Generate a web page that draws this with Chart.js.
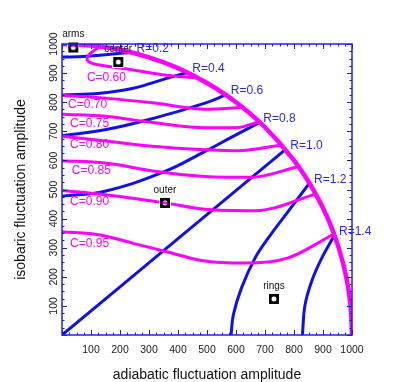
<!DOCTYPE html>
<html>
<head>
<meta charset="utf-8">
<script src="https://cdn.jsdelivr.net/npm/chart.js@4.4.1/dist/chart.umd.min.js"></script>
<style>
  html, body { margin: 0; padding: 0; background: #fff; }
  #wrap { width: 415px; height: 382px; }
</style>
</head>
<body>
<div id="wrap"><canvas id="chart" width="415" height="382"></canvas></div>
<script>
// R contours (blue)
var rLabels = ["R=0.2", "R=0.4", "R=0.6", "R=0.8", "R=1.0", "R=1.2", "R=1.4"];
var rX = [
    [0, 73, 166, 240],
    [0, 131, 246, 361, 432],
    [0, 148, 321, 493, 565],
    [0, 148, 355, 493, 585, 677],
    [0, 400, 770],
    [583, 591, 619, 666, 711, 780, 852],
    [829, 838, 861, 896, 938]
];
var rY = [
    [955, 957, 965, 971],
    [825, 831, 848, 882, 902],
    [685, 705, 746, 797, 825],
    [477, 494, 562, 631, 680, 728],
    [0, 331, 637],
    [0, 70, 162, 265, 333, 425, 520],
    [0, 103, 185, 265, 340]
];

// C contours (magenta)
var cLabels = ["C=0.60", "C=0.70", "C=0.75", "C=0.80", "C=0.85", "C=0.90", "C=0.95"];
var cX = [
    [131, 98, 86, 100, 140, 246, 361, 466],
    [0, 148, 321, 493, 620],
    [0, 148, 321, 493, 600, 680],
    [0, 148, 321, 493, 608, 757],
    [0, 148, 321, 493, 654, 815],
    [0, 148, 355, 493, 666, 875],
    [0, 131, 246, 361, 493, 631, 780, 938]
];
var cY = [
    [991, 968, 950, 935, 926, 911, 893, 884],
    [824, 814, 797, 776, 782],
    [759, 752, 729, 712, 712, 733],
    [683, 667, 648, 637, 633, 653],
    [599, 591, 563, 545, 542, 579],
    [497, 482, 454, 432, 427, 484],
    [355, 344, 315, 286, 254, 247, 265, 347]
];
// where the C labels sit (data units)
var cLabelX = [86, 21, 28, 28, 34, 28, 28];
var cLabelY = [883, 790, 725, 653, 564, 457, 313];

// outer boundary
var bX = [0, 100, 200, 300, 400, 500, 600, 700, 800, 866, 917, 954, 980, 995, 1000];
var bY = [1000, 995, 980, 954, 917, 866, 800, 714, 600, 500, 400, 300, 200, 100, 0];

// regions
var mNames = ["arms", "center", "outer", "rings"];
var mX = [39, 194, 355, 731];
var mY = [988, 938, 454, 124];

var xTicks = [100, 200, 300, 400, 500, 600, 700, 800, 900, 1000];
var yTicks = [100, 200, 300, 400, 500, 600, 700, 800, 900, 1000];

var BLUE = "#1010ee";
var MAGENTA = "#ff00ff";
var FONT = '"Liberation Sans", Arial, Helvetica, sans-serif';

function pts(xs, ys) {
    return xs.map(function (x, i) { return {x: x, y: ys[i]}; });
}

// C curves that only move left to right get the monotone spline
function isMonotone(xs) {
    for (var i = 1; i < xs.length; i++) {
        if (xs[i] <= xs[i - 1]) return false;
    }
    return true;
}

// black square with a hole in the middle
function markerImage() {
    var c = document.createElement("canvas");
    c.width = 12; c.height = 12;
    var g = c.getContext("2d");
    g.fillStyle = "#fff"; g.fillRect(0, 0, 12, 12);
    g.fillStyle = "#000"; g.fillRect(1, 1, 10, 10);
    g.globalCompositeOperation = "destination-out";
    g.beginPath(); g.arc(6, 6, 2.5, 0, Math.PI * 2); g.fill();
    return c;
}

function curve(xs, ys, color, width, mono) {
    return {
        data: pts(xs, ys),
        showLine: true, borderColor: color, borderWidth: width,
        pointRadius: 0, fill: false,
        tension: 0.4,
        cubicInterpolationMode: mono ? "monotone" : "default"
    };
}

var datasets = [];
datasets.push({
    data: pts(mX, mY),
    showLine: false,
    pointStyle: markerImage(),
    pointRadius: 6,
    clip: false
});
datasets.push(curve(bX, bY, MAGENTA, 4.5, false));
cX.forEach(function (xs, i) {
    datasets.push(curve(xs, cY[i], MAGENTA, 3, isMonotone(xs)));
});
rX.forEach(function (xs, i) {
    datasets.push(curve(xs, rY[i], BLUE, 3, false));
});

// frame, inward ticks, labels
var decor = {
    id: "decor",
    afterDatasetsDraw: function (chart) {
        var ctx = chart.ctx, ca = chart.chartArea;
        var xs = chart.scales.x, ys = chart.scales.y;
        ctx.save();

        // ticks
        ctx.strokeStyle = "#22228a";
        ctx.lineWidth = 1;
        for (var v = 0; v <= 1000; v += 25) {
            var len = (v % 100 === 0) ? 5 : 2.5;
            var px = Math.round(xs.getPixelForValue(v)) + 0.5;
            var py = Math.round(ys.getPixelForValue(v)) + 0.5;
            ctx.beginPath();
            ctx.moveTo(px, ca.bottom); ctx.lineTo(px, ca.bottom - len);
            ctx.moveTo(px, ca.top); ctx.lineTo(px, ca.top + len);
            ctx.moveTo(ca.left, py); ctx.lineTo(ca.left + len, py);
            ctx.moveTo(ca.right, py); ctx.lineTo(ca.right - len, py);
            ctx.stroke();
        }

        // frame
        ctx.strokeStyle = "#2020f0";
        ctx.lineWidth = 1.5;
        ctx.strokeRect(ca.left, ca.top, ca.right - ca.left, ca.bottom - ca.top);

        // tick labels
        ctx.fillStyle = "#222";
        ctx.font = "10.5px " + FONT;
        ctx.textAlign = "center";
        ctx.textBaseline = "alphabetic";
        xTicks.forEach(function (t) {
            ctx.fillText(String(t), xs.getPixelForValue(t), ca.bottom + 18);
        });
        yTicks.forEach(function (t) {
            ctx.save();
            ctx.translate(ca.left - 5, ys.getPixelForValue(t));
            ctx.rotate(-Math.PI / 2);
            ctx.fillText(String(t), 0, 0);
            ctx.restore();
        });

        // axis titles
        ctx.font = "14px " + FONT;
        ctx.fillStyle = "#111";
        ctx.fillText("adiabatic fluctuation amplitude", (ca.left + ca.right) / 2, ca.bottom + 44);
        ctx.save();
        ctx.translate(25, (ca.top + ca.bottom) / 2);
        ctx.rotate(-Math.PI / 2);
        ctx.fillText("isobaric fluctuation amplitude", 0, 0);
        ctx.restore();

        // R labels at the end of each blue curve
        ctx.font = "12px " + FONT;
        ctx.textAlign = "left";
        ctx.textBaseline = "middle";
        ctx.fillStyle = "#2a2aee";
        rLabels.forEach(function (lab, i) {
            var n = rX[i].length - 1;
            ctx.fillText(lab, xs.getPixelForValue(rX[i][n]) + 5, ys.getPixelForValue(rY[i][n]) - 4);
        });

        // C labels
        ctx.fillStyle = MAGENTA;
        cLabels.forEach(function (lab, i) {
            ctx.fillText(lab, xs.getPixelForValue(cLabelX[i]), ys.getPixelForValue(cLabelY[i]));
        });

        // region names
        ctx.font = "10px " + FONT;
        ctx.textAlign = "center";
        ctx.textBaseline = "alphabetic";
        ctx.fillStyle = "#111";
        mNames.forEach(function (lab, i) {
            ctx.fillText(lab, xs.getPixelForValue(mX[i]), ys.getPixelForValue(mY[i]) - 10);
        });

        ctx.restore();
    }
};

var ctx = document.getElementById("chart").getContext("2d");
var myChart = new Chart(ctx, {
    type: "scatter",
    data: {datasets: datasets},
    options: {
        responsive: false,
        animation: false,
        layout: {padding: {left: 0, top: 44, right: 63, bottom: 0}},
        plugins: {legend: {display: false}, tooltip: {enabled: false}},
        scales: {
            x: {
                type: "linear", min: 0, max: 1000,
                grid: {display: false, drawTicks: false},
                border: {display: false},
                ticks: {display: false},
                afterFit: function (s) { s.height = 47; }
            },
            y: {
                type: "linear", min: 0, max: 1000,
                grid: {display: false, drawTicks: false},
                border: {display: false},
                ticks: {display: false},
                afterFit: function (s) { s.width = 62; }
            }
        }
    },
    plugins: [decor]
});
</script>
</body>
</html>
